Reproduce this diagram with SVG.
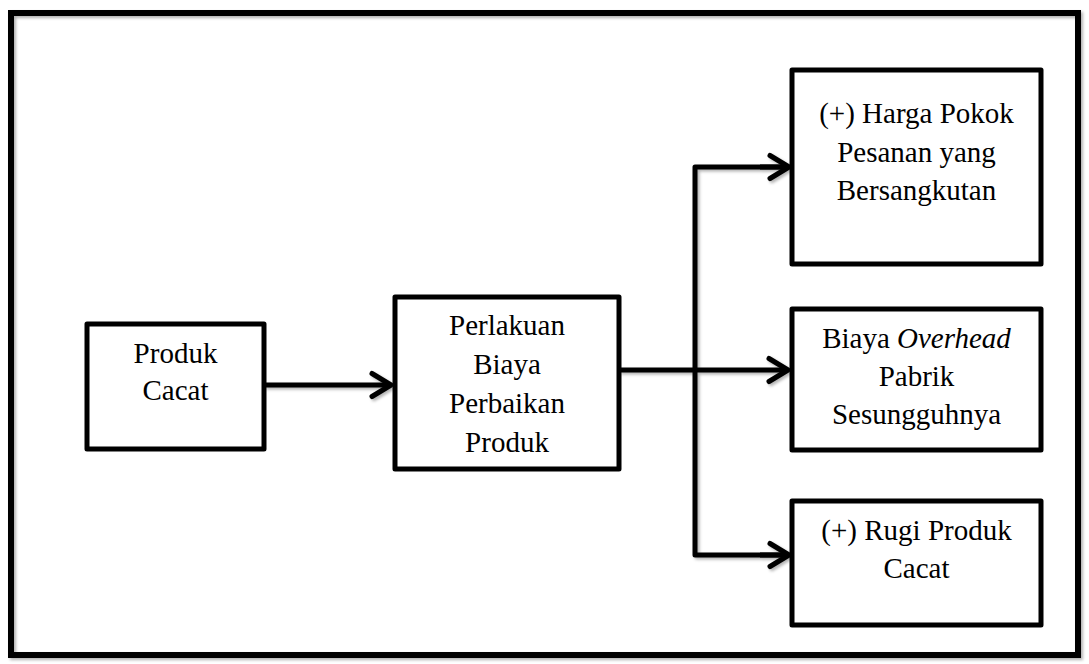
<svg xmlns="http://www.w3.org/2000/svg" width="1089" height="664" viewBox="0 0 1089 664">
  <style>
    .box { fill: #ffffff; stroke: #000000; stroke-width: 5; stroke-linejoin: round; }
    .frame { fill: none; stroke: #000000; stroke-width: 6; }
    .lbl { font-family: "Liberation Serif", "Times New Roman", serif; font-size: 29px; fill: #000000; text-anchor: middle; }
    .conn { fill: none; stroke: #000000; stroke-width: 5; stroke-linejoin: round; }
  </style>
  <defs>
    <filter id="sh" x="-10%" y="-10%" width="120%" height="120%">
      <feDropShadow dx="2" dy="2" stdDeviation="1.5" flood-color="#000000" flood-opacity="0.3"/>
    </filter>
    <marker id="arr" markerUnits="userSpaceOnUse" markerWidth="40" markerHeight="40" viewBox="-30 -20 40 40" refX="0" refY="0" orient="auto" overflow="visible">
      <path d="M-19,-11.5 L0,0 L-19,11.5" fill="none" stroke="#000000" stroke-width="5" stroke-linecap="round" stroke-linejoin="round"/>
    </marker>
  </defs>
  <rect width="1089" height="664" fill="#ffffff"/>
  <g id="frame" filter="url(#sh)">
    <rect class="frame" x="11" y="13" width="1067" height="642"/>
  </g>
  <g id="connectors" filter="url(#sh)">
    <path class="conn" d="M264,385 L391,385" marker-end="url(#arr)"/>
    <path class="conn" d="M619,370 L788,370" marker-end="url(#arr)"/>
    <path class="conn" d="M789,167 L695,167 L695,555 L789,555"/>
    <path class="conn" d="M760,167 L789,167" marker-end="url(#arr)"/>
    <path class="conn" d="M760,555 L789,555" marker-end="url(#arr)"/>
  </g>
  <g id="node-produk-cacat">
    <rect class="box" x="87" y="324" width="177" height="125"/>
    <text class="lbl" x="175.5" y="363">Produk</text>
    <text class="lbl" x="175.5" y="400">Cacat</text>
  </g>
  <g id="node-perlakuan">
    <rect class="box" x="395" y="297" width="224" height="172"/>
    <text class="lbl" x="507" y="335">Perlakuan</text>
    <text class="lbl" x="507" y="374">Biaya</text>
    <text class="lbl" x="507" y="413">Perbaikan</text>
    <text class="lbl" x="507" y="452">Produk</text>
  </g>
  <g id="node-harga-pokok">
    <rect class="box" x="792" y="70" width="249" height="194"/>
    <text class="lbl" x="916.5" y="123">(+) Harga Pokok</text>
    <text class="lbl" x="916.5" y="161.5">Pesanan yang</text>
    <text class="lbl" x="916.5" y="200">Bersangkutan</text>
  </g>
  <g id="node-overhead">
    <rect class="box" x="792" y="309" width="249" height="141"/>
    <text class="lbl" x="916.5" y="348">Biaya <tspan font-style="italic">Overhead</tspan></text>
    <text class="lbl" x="916.5" y="386">Pabrik</text>
    <text class="lbl" x="916.5" y="424">Sesungguhnya</text>
  </g>
  <g id="node-rugi">
    <rect class="box" x="792" y="501" width="249" height="124"/>
    <text class="lbl" x="916.5" y="540">(+) Rugi Produk</text>
    <text class="lbl" x="916.5" y="578">Cacat</text>
  </g>
</svg>
